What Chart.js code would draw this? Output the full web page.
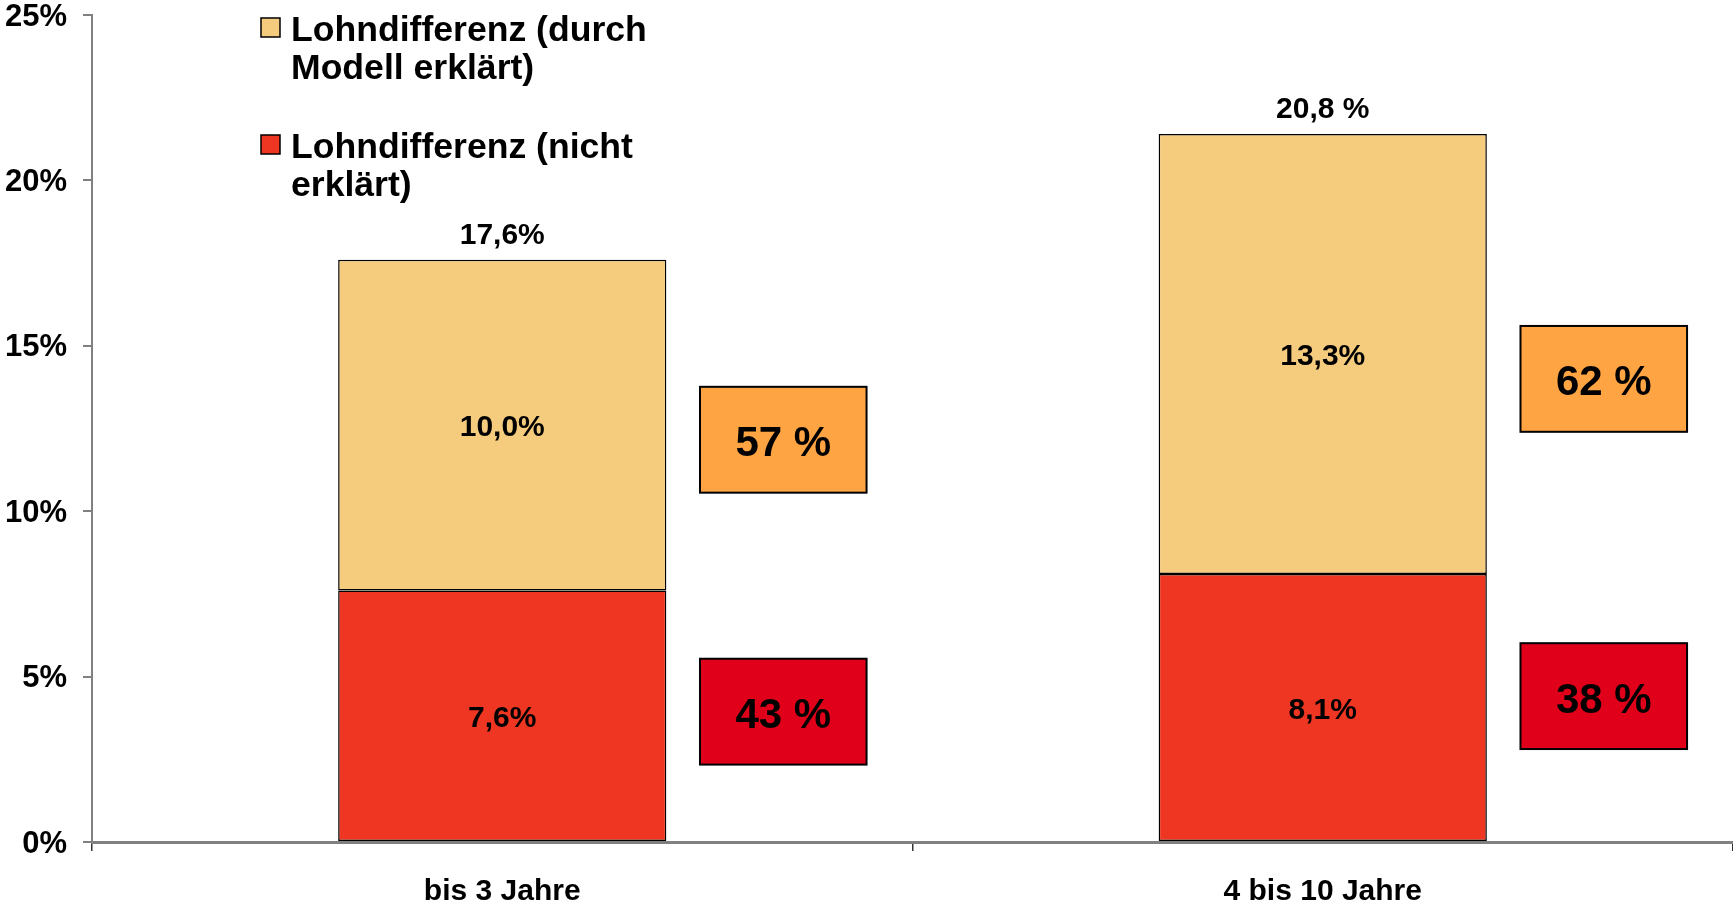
<!DOCTYPE html>
<html>
<head>
<meta charset="utf-8">
<script src="https://cdn.jsdelivr.net/npm/chart.js@4.4.1/dist/chart.umd.min.js"></script>
<style>
  html, body { margin: 0; padding: 0; background: #ffffff; }
  #wrap { position: relative; width: 1733px; height: 902px; }
</style>
</head>
<body>
<div id="wrap"><canvas id="c"></canvas></div>
<script>
// ---------------- DATA ----------------
const categories = ['bis 3 Jahre', '4 bis 10 Jahre'];
const unexplainedValues = [7.6, 8.1];   // Lohndifferenz (nicht erklärt)
const explainedValues = [10.0, 13.3];   // Lohndifferenz (durch Modell erklärt)
const totalLabels = ['17,6%', '20,8 %'];
const explainedShare = [57, 62];
const unexplainedShare = [43, 38];
const yTickValues = [0, 5, 10, 15, 20, 25];
const explainedName = ['Lohndifferenz (durch', 'Modell erklärt)'];
const unexplainedName = ['Lohndifferenz (nicht', 'erklärt)'];

// ---------------- LAYOUT / STYLE ----------------
const FONT = '"Liberation Sans", Arial, Helvetica, sans-serif';
const COLORS = {
  explained: '#F5CC7E',
  unexplained: '#EF3622',
  explainedBox: '#FFA443',
  unexplainedBox: '#E0001A',
  axis: '#808080'
};
const LAYOUT = {
  boxLeftFrac: 0.241,      // box left edge offset from category centre (fraction of category width)
  boxRightFrac: 0.444,
  boxHeight: 3.2,          // in value units
  explainedBoxCenter: [12.16, 14.0],
  unexplainedBoxCenter: [3.94, 4.41]
};

const fmt = v => v.toFixed(1).replace('.', ',') + '%';

const labelPlugin = {
  id: 'labelsAndBoxes',
  afterDatasetsDraw(chart) {
    const ctx = chart.ctx;
    const xs = chart.scales.x, ys = chart.scales.y;
    const m0 = chart.getDatasetMeta(0), m1 = chart.getDatasetMeta(1);
    ctx.save();
    ctx.textAlign = 'center';
    ctx.textBaseline = 'middle';
    ctx.fillStyle = '#000';
    ctx.font = 'bold 30px ' + FONT;
    categories.forEach((c, i) => {
      const e0 = m0.data[i], e1 = m1.data[i];
      ctx.fillText(fmt(unexplainedValues[i]), e0.x, (e0.y + e0.base) / 2 + 3);
      ctx.fillText(fmt(explainedValues[i]), e1.x, (e1.y + e1.base) / 2 + 3);
      ctx.fillText(totalLabels[i], e1.x, e1.y - 24);
    });
    // share boxes
    const catW = (xs.right - xs.left) / categories.length;
    const drawBox = (i, center, color, text) => {
      const cx = xs.getPixelForValue(i);
      const x1 = cx + LAYOUT.boxLeftFrac * catW;
      const x2 = cx + LAYOUT.boxRightFrac * catW;
      const y1 = ys.getPixelForValue(center + LAYOUT.boxHeight / 2);
      const y2 = ys.getPixelForValue(center - LAYOUT.boxHeight / 2);
      ctx.fillStyle = color;
      ctx.fillRect(x1, y1, x2 - x1, y2 - y1);
      ctx.lineWidth = 2;
      ctx.strokeStyle = '#000';
      ctx.strokeRect(x1, y1, x2 - x1, y2 - y1);
      ctx.fillStyle = '#000';
      ctx.font = 'bold 42px ' + FONT;
      ctx.fillText(text, (x1 + x2) / 2, (y1 + y2) / 2 + 5);
    };
    categories.forEach((c, i) => {
      drawBox(i, LAYOUT.explainedBoxCenter[i], COLORS.explainedBox, explainedShare[i] + ' %');
      drawBox(i, LAYOUT.unexplainedBoxCenter[i], COLORS.unexplainedBox, unexplainedShare[i] + ' %');
    });
    ctx.restore();
  },
  afterDraw(chart) {
    // legend (drawn inside plot area, top-left)
    const ctx = chart.ctx;
    ctx.save();
    const items = [
      { color: chart.data.datasets[1].backgroundColor, lines: chart.data.datasets[1].label, sq: 18, ty: [31, 69.5] },
      { color: chart.data.datasets[0].backgroundColor, lines: chart.data.datasets[0].label, sq: 135, ty: [148, 186.5] }
    ];
    items.forEach(it => {
      ctx.fillStyle = it.color;
      ctx.fillRect(261, it.sq, 19, 19);
      ctx.lineWidth = 1.5;
      ctx.strokeStyle = '#000';
      ctx.strokeRect(261, it.sq, 19, 19);
      ctx.fillStyle = '#000';
      ctx.font = 'bold 35.6px ' + FONT;
      ctx.textAlign = 'left';
      ctx.textBaseline = 'middle';
      it.lines.forEach((l, k) => ctx.fillText(l, 291, it.ty[k]));
    });
    ctx.restore();
  }
};

new Chart(document.getElementById('c'), {
  type: 'bar',
  data: {
    labels: categories,
    datasets: [
      {
        label: unexplainedName,
        data: unexplainedValues,
        backgroundColor: COLORS.unexplained,
        borderColor: '#000',
        borderWidth: 1.5,
        borderSkipped: false
      },
      {
        label: explainedName,
        data: explainedValues,
        backgroundColor: COLORS.explained,
        borderColor: '#000',
        borderWidth: 1.5,
        borderSkipped: false
      }
    ]
  },
  options: {
    responsive: true,
    maintainAspectRatio: false,
    animation: false,
    devicePixelRatio: 1,
    layout: { padding: { top: 0, right: 0, left: 0, bottom: 0 } },
    datasets: { bar: { categoryPercentage: 1.0, barPercentage: 0.4 } },
    plugins: {
      legend: { display: false },
      tooltip: { enabled: false }
    },
    scales: {
      x: {
        stacked: true,
        afterFit: s => { s.height = 60; s.paddingLeft = 0; s.paddingRight = 0; },
        grid: { drawOnChartArea: false, tickLength: 9, color: '#333', lineWidth: 1.5, offset: true },
        border: { color: COLORS.axis, width: 3 },
        ticks: { color: '#000', font: { family: FONT, size: 30, weight: 'bold', lineHeight: 1 }, padding: 26 }
      },
      y: {
        stacked: true,
        min: 0,
        max: 25,
        afterFit: s => { s.width = 92; s.paddingTop = 15; s.paddingBottom = 0; },
        afterBuildTicks: s => { s.ticks = yTickValues.map(v => ({ value: v })); },
        grid: { drawOnChartArea: false, tickLength: 9, color: COLORS.axis, lineWidth: 2 },
        border: { color: COLORS.axis, width: 2 },
        ticks: {
          color: '#000',
          font: { family: FONT, size: 31, weight: 'bold', lineHeight: 1 },
          padding: 16,
          labelOffset: 2,
          callback: v => v + '%'
        }
      }
    }
  },
  plugins: [labelPlugin]
});
</script>
</body>
</html>
